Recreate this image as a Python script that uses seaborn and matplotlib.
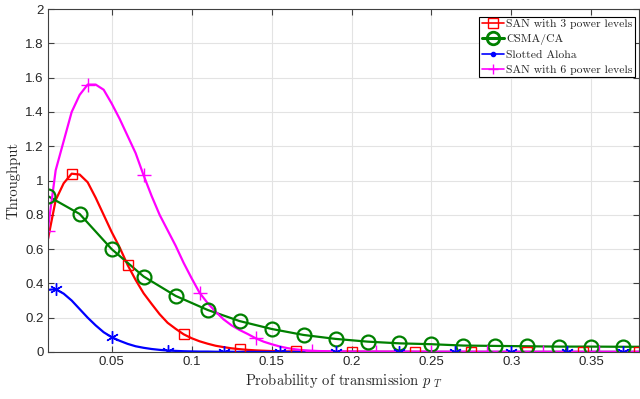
import matplotlib
matplotlib.use('Agg')
import matplotlib.pyplot as plt
import seaborn as sns
import pandas as pd

# curve samples (probability of transmission)
p_dense = [0.010, 0.015, 0.020, 0.025, 0.030, 0.035, 0.040, 0.045, 0.050, 0.055,
           0.060, 0.065, 0.070, 0.075, 0.080, 0.085, 0.090, 0.095, 0.100, 0.105,
           0.110, 0.115, 0.120, 0.125, 0.130, 0.135, 0.140, 0.145, 0.150, 0.155,
           0.160, 0.165, 0.170, 0.175, 0.180, 0.190, 0.200, 0.250, 0.300, 0.380]

san3 = [0.65, 0.886, 0.984, 1.04, 1.035, 0.99, 0.90, 0.80, 0.70, 0.61,
        0.507, 0.42, 0.342, 0.28, 0.22, 0.17, 0.135, 0.103, 0.08, 0.062,
        0.048, 0.036, 0.028, 0.021, 0.016, 0.012, 0.009, 0.007, 0.005, 0.004,
        0.003, 0.003, 0.002, 0.002, 0.001, 0.001, 0.001, 0.0, 0.0, 0.0]

san6 = [0.707, 1.06, 1.23, 1.40, 1.50, 1.56, 1.56, 1.53, 1.45, 1.36,
        1.26, 1.16, 1.03, 0.91, 0.80, 0.71, 0.62, 0.52, 0.43, 0.345,
        0.285, 0.235, 0.19, 0.155, 0.128, 0.105, 0.08, 0.06, 0.045, 0.032,
        0.022, 0.015, 0.01, 0.007, 0.005, 0.003, 0.002, 0.001, 0.0, 0.0]

aloha = [0.362, 0.366, 0.34, 0.30, 0.25, 0.20, 0.155, 0.115, 0.086, 0.065,
         0.047, 0.033, 0.024, 0.017, 0.012, 0.008, 0.006, 0.004, 0.003, 0.002,
         0.002, 0.001, 0.001, 0.001, 0.0, 0.0, 0.0, 0.0, 0.0, 0.0,
         0.0, 0.0, 0.0, 0.0, 0.0, 0.0, 0.0, 0.0, 0.0, 0.0]

p_csma = [0.01, 0.03, 0.05, 0.07, 0.09, 0.11, 0.13, 0.15, 0.17, 0.19,
          0.21, 0.23, 0.25, 0.27, 0.29, 0.31, 0.33, 0.35, 0.37, 0.38]
csma = [0.91, 0.805, 0.60, 0.44, 0.327, 0.245, 0.18, 0.134, 0.099, 0.076,
        0.06, 0.05, 0.045, 0.037, 0.035, 0.033, 0.031, 0.031, 0.03, 0.03]

# marker positions
p_mk_san3 = [0.025, 0.06, 0.095, 0.13, 0.165, 0.2, 0.24, 0.275, 0.31, 0.345, 0.38]
y_mk_san3 = [1.04, 0.507, 0.103, 0.016, 0.003, 0.001, 0.0, 0.0, 0.0, 0.0, 0.0]
p_mk_san6 = [0.01, 0.035, 0.07, 0.105, 0.14, 0.175, 0.215, 0.25, 0.285, 0.32, 0.355]
y_mk_san6 = [0.707, 1.56, 1.03, 0.345, 0.08, 0.007, 0.001, 0.001, 0.0, 0.0, 0.0]
p_mk_aloha = [0.015, 0.05, 0.085, 0.12, 0.155, 0.19, 0.23, 0.265, 0.30, 0.335, 0.37]
y_mk_aloha = [0.366, 0.086, 0.008, 0.001, 0.0, 0.0, 0.0, 0.0, 0.0, 0.0, 0.0]
p_mk_csma = p_csma[:-1]
y_mk_csma = csma[:-1]

labels = ['SAN with 3 power levels', 'CSMA/CA', 'Slotted Aloha', 'SAN with 6 power levels']

sns.set_style('whitegrid')
plt.rcParams['mathtext.fontset'] = 'cm'
axcol = '#404040'

fig = plt.figure(figsize=(6.4, 3.99), dpi=100)
ax = fig.add_axes([0.0745, 0.118, 0.9245, 0.859])

df_dense = pd.DataFrame({'p': p_dense, 'san3': san3, 'san6': san6, 'aloha': aloha})
df_csma = pd.DataFrame({'p': p_csma, 'csma': csma})

sns.lineplot(data=df_dense, x='p', y='san3', color='#ff0000', lw=1.6, ax=ax)
sns.lineplot(data=df_csma, x='p', y='csma', color='#008000', lw=1.6, ax=ax)
sns.lineplot(data=df_dense, x='p', y='aloha', color='#0000ff', lw=1.6, ax=ax)
sns.lineplot(data=df_dense, x='p', y='san6', color='#ff00ff', lw=1.6, ax=ax)

ax.plot(p_mk_san3, y_mk_san3, ls='none', marker='s', ms=7, mfc='none', mec='#ff0000', mew=1.0)
ax.plot(p_mk_csma, y_mk_csma, ls='none', marker='o', ms=10, mfc='none', mec='#008000', mew=1.6)
ax.plot(p_mk_aloha, y_mk_aloha, ls='none', marker=(6, 2, 0), ms=9, mec='#0000ff', mew=1.0)
ax.plot(p_mk_san6, y_mk_san6, ls='none', marker='+', ms=10, mec='#ff00ff', mew=1.0)

# legend handles
h1, = ax.plot([], [], color='#ff0000', lw=1.2, marker='s', ms=7, mfc='none', mew=1.0)
h2, = ax.plot([], [], color='#008000', lw=2.2, marker='o', ms=9, mfc='none', mew=2.0)
h3, = ax.plot([], [], color='#0000ff', lw=1.2, marker='.', ms=6)
h4, = ax.plot([], [], color='#ff00ff', lw=1.2, marker='+', ms=7)
leg = ax.legend([h1, h2, h3, h4], labels, loc='upper right', bbox_to_anchor=(0.9965, 0.985),
                prop={'family': 'cmr10', 'size': 8.4}, frameon=True, fancybox=False,
                edgecolor='black', framealpha=1, borderpad=0.22, labelspacing=0.4,
                handlelength=1.9, handletextpad=0.2, borderaxespad=0.2)
leg.get_frame().set_linewidth(0.8)

ax.set_xlim(0.01, 0.38)
ax.set_ylim(0, 2)
ax.set_xticks([0.05, 0.1, 0.15, 0.2, 0.25, 0.3, 0.35])
ax.set_xticklabels(['0.05', '0.1', '0.15', '0.2', '0.25', '0.3', '0.35'])
ax.set_yticks([0, 0.2, 0.4, 0.6, 0.8, 1, 1.2, 1.4, 1.6, 1.8, 2])
ax.set_yticklabels(['0', '0.2', '0.4', '0.6', '0.8', '1', '1.2', '1.4', '1.6', '1.8', '2'])
ax.grid(True, color='#e3e3e3', lw=0.8)
for s in ax.spines.values():
    s.set_visible(True)
    s.set_color(axcol)
    s.set_linewidth(0.8)
ax.tick_params(direction='in', length=4, width=0.8, color=axcol, labelcolor='#262626',
               labelsize=9.5, pad=3, top=True, right=True, bottom=True, left=True,
               labeltop=False, labelright=False)
for t in ax.get_xticklabels() + ax.get_yticklabels():
    t.set_family('Liberation Sans')

ax.set_xlabel(r'Probability of transmission $p_{\ T}$', family='cmr10', fontsize=10.5, labelpad=2)
ax.set_ylabel('Throughput', family='cmr10', fontsize=10.5, labelpad=3)

fig.savefig('out.png', dpi=100)
